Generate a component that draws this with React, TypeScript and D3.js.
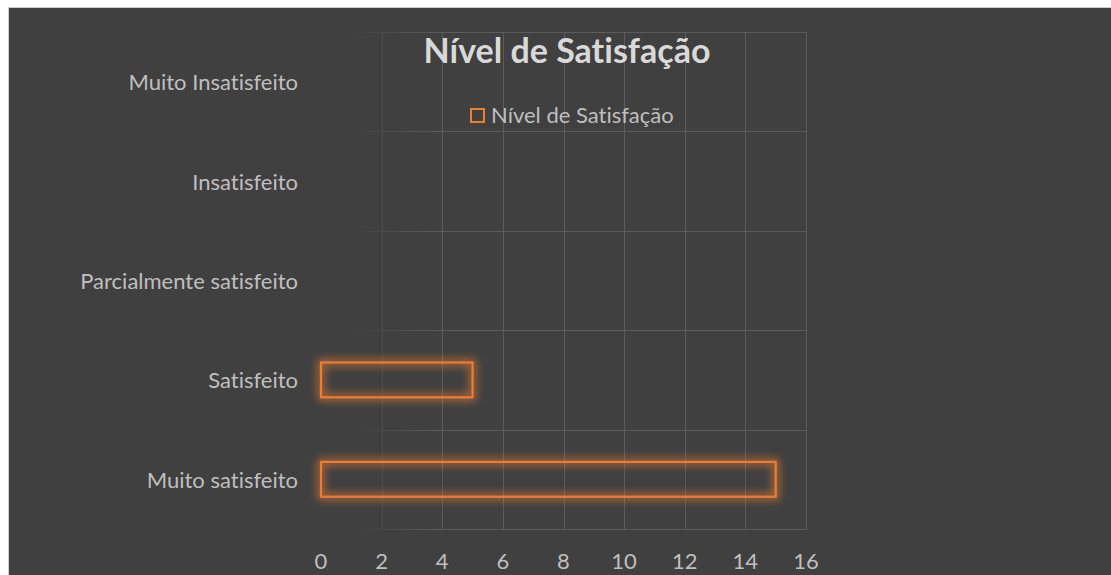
import React from "react";
import * as d3 from "d3";

const categories = [
  "Muito satisfeito",
  "Satisfeito",
  "Parcialmente satisfeito",
  "Insatisfeito",
  "Muito Insatisfeito",
];
const values = [15, 5, 0, 0, 0];
const xTicks = [0, 2, 4, 6, 8, 10, 12, 14, 16];
const seriesName = "Nível de Satisfação";
const chartTitle = "Nível de Satisfação";

const W = 1111;
const H = 575;
const FONT = "Lato, 'Open Sans', sans-serif";
const noLig = { fontVariantLigatures: "none", fontFeatureSettings: "'liga' 0, 'clig' 0" } as React.CSSProperties;

export default function App() {
  const x = d3.scaleLinear().domain([0, 16]).range([321, 806]);
  const y = d3
    .scaleBand<string>()
    .domain([...categories].reverse())
    .range([32, 529])
    .paddingInner(0)
    .paddingOuter(0);
  const barH = y.bandwidth() * 0.35;
  const bandEdges = [...categories].reverse().map((c) => y(c) as number);
  bandEdges.push(y.range()[1]);

  return (
    <svg
      width={W}
      height={H}
      style={{ position: "absolute", left: 0, top: 0, display: "block", ...noLig }}
    >
      <defs>
        <filter id="glow" x="-10%" y="-60%" width="120%" height="220%">
          <feMorphology in="SourceAlpha" operator="dilate" radius="2" result="thick" />
          <feGaussianBlur in="thick" stdDeviation="4" result="blur" />
          <feFlood floodColor="#ED7D31" floodOpacity="0.7" />
          <feComposite in2="blur" operator="in" result="glowCol" />
          <feMerge>
            <feMergeNode in="glowCol" />
            <feMergeNode in="SourceGraphic" />
          </feMerge>
        </filter>
        <linearGradient id="hgrid" gradientUnits="userSpaceOnUse" x1={x(1)} x2={x(4)} y1={0} y2={0}>
          <stop offset="0" stopColor="#5c5c5c" stopOpacity={0} />
          <stop offset="1" stopColor="#5c5c5c" stopOpacity={1} />
        </linearGradient>
      </defs>
      <rect x={0} y={0} width={W} height={H} fill="#ffffff" />
      <rect
        x={8.5}
        y={7.5}
        width={W}
        height={H}
        fill="#404040"
        stroke="#d0d0d0"
        strokeWidth={1}
      />
      {/* gridlines */}
      <g strokeWidth={1}>
        {xTicks
          .filter((t) => t > 0)
          .map((t) => (
            <line
              key={"v" + t}
              stroke={t === 2 ? "#4d4d4d" : "#5c5c5c"}
              x1={Math.round(x(t)) + 0.5}
              x2={Math.round(x(t)) + 0.5}
              y1={y.range()[0]}
              y2={y.range()[1]}
            />
          ))}
        {bandEdges.map((e, i) => (
          <line
            key={"h" + i}
            stroke="url(#hgrid)"
            x1={x(0)}
            x2={x(16) + 0.5}
            y1={Math.round(e) + 0.5}
            y2={Math.round(e) + 0.5}
          />
        ))}
      </g>
      {/* bars */}
      <g filter="url(#glow)">
        {categories.map((c, i) =>
          values[i] > 0 ? (
            <rect
              key={c}
              x={x(0)}
              y={(y(c) as number) + y.bandwidth() / 2 - barH / 2}
              width={x(values[i]) - x(0)}
              height={barH}
              fill="none"
              stroke="#ED7D31"
              strokeWidth={2.2}
            />
          ) : null
        )}
      </g>
      {/* category labels */}
      <g fontFamily={FONT} fontSize={22} fill="#bfbfbf" textAnchor="end">
        {categories.map((c) => (
          <text
            key={c}
            x={298}
            y={(y(c) as number) + y.bandwidth() / 2}
            dominantBaseline="central"
          >
            {c}
          </text>
        ))}
      </g>
      {/* x tick labels */}
      <g fontFamily={FONT} fontSize={22} fill="#bfbfbf" textAnchor="middle">
        {xTicks.map((t) => (
          <text key={t} x={x(t)} y={560} dominantBaseline="central">
            {t}
          </text>
        ))}
      </g>
      {/* title */}
      <text
        x={567}
        y={63}
        textAnchor="middle"
        fontFamily={FONT}
        fontWeight="bold"
        fontSize={34}
        fill="#d9d9d9"
      >
        {chartTitle}
      </text>
      {/* legend */}
      <g>
        <rect
          x={471}
          y={109}
          width={13}
          height={13}
          fill="none"
          stroke="#ED7D31"
          strokeWidth={2}
        />
        <text x={491} y={123} fontFamily={FONT} fontSize={22} fill="#bfbfbf">
          {seriesName}
        </text>
      </g>
    </svg>
  );
}
